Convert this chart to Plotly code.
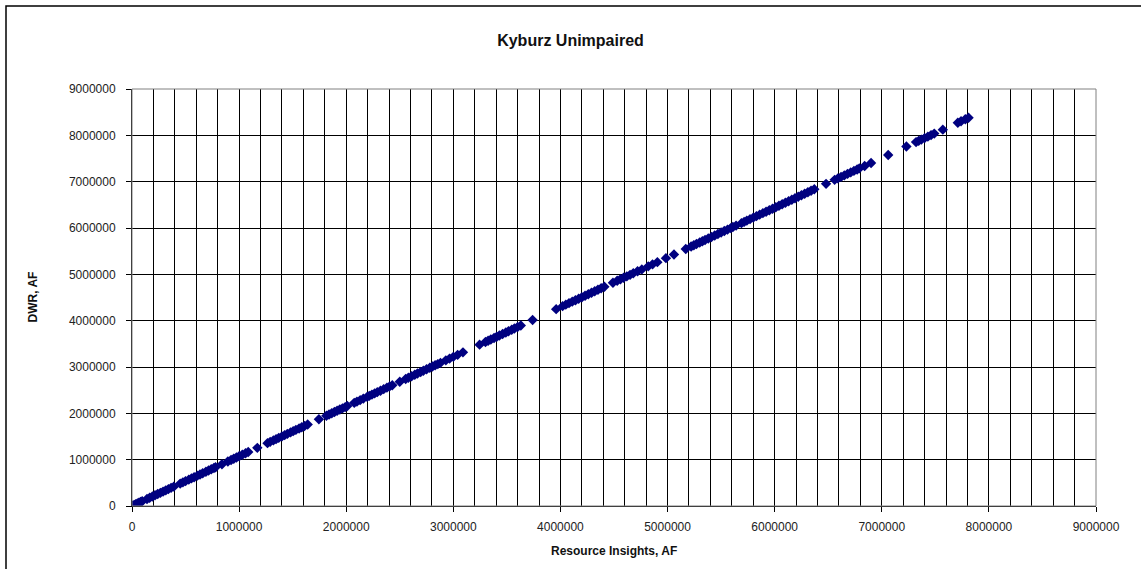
import numpy as np
import plotly.graph_objects as go

# Resource Insights (x) vs DWR (y), in thousands of AF
ri_kaf = [
    5, 20, 35, 50, 65, 80, 95,
    140, 165, 190, 215, 240, 265, 290, 315, 340, 365, 390,
    450, 475, 500, 530, 555, 580, 610, 635, 660, 690, 715, 740, 765, 780,
    840, 895,
    925, 950, 975, 1000, 1030, 1060, 1085,
    1170,
    1265, 1290, 1320, 1345, 1370, 1400, 1425, 1450, 1480, 1505, 1530, 1560, 1585, 1610, 1640,
    1745,
    1815, 1840, 1865, 1890, 1915, 1940, 1965, 1990, 2010,
    2075, 2100, 2130, 2160, 2195,
    2215, 2240, 2265, 2290, 2320, 2350, 2380, 2405, 2430,
    2500,
    2555, 2580, 2610, 2640, 2665, 2695, 2720, 2750, 2780, 2805, 2830, 2855, 2880,
    2930, 2965, 3000, 3040,
    3090,
    3245,
    3300, 3325, 3350, 3380, 3405, 3430, 3460, 3490, 3515, 3545, 3570, 3600, 3630,
    3740,
    3960,
    4020, 4050, 4080, 4110, 4140, 4170, 4200, 4230, 4260, 4290, 4320, 4350, 4380, 4410,
    4490,
    4530, 4560, 4590, 4620, 4650, 4680, 4720,
    4760, 4820, 4860,
    4905, 4985, 5060, 5170,
    5220, 5245, 5270, 5300, 5325, 5350, 5380, 5410, 5440, 5470, 5500, 5530, 5560, 5590, 5610,
    5640,
    5690, 5715, 5740, 5770, 5800, 5830, 5860, 5890, 5920, 5950, 5980, 6010,
    6040, 6070, 6100, 6130, 6160, 6190, 6220, 6250, 6280, 6310, 6340, 6370,
    6480,
    6560, 6590, 6620, 6650, 6680, 6710, 6740, 6770, 6790,
    6840, 6900, 7060, 7230,
    7320, 7345, 7370, 7400, 7430, 7460, 7490,
    7570,
    7710, 7740, 7780, 7810,
]
dwr_kaf = [
    5, 21, 38, 54, 70, 86, 102,
    150, 177, 204, 231, 258, 284, 311, 338, 365, 392, 418,
    483, 510, 537, 569, 596, 622, 655, 681, 708, 740, 767, 794, 821, 837,
    901, 960,
    993, 1019, 1046, 1073, 1105, 1137, 1164,
    1255,
    1357, 1384, 1416, 1443, 1470, 1502, 1529, 1556, 1588, 1615, 1642, 1674, 1701, 1728, 1760,
    1872,
    1948, 1974, 2001, 2028, 2055, 2082, 2108, 2135, 2157,
    2226, 2253, 2285, 2318, 2355,
    2377, 2404, 2430, 2457, 2489, 2522, 2554, 2581, 2607,
    2682,
    2741, 2768, 2800, 2833, 2860, 2892, 2919, 2951, 2983, 3010, 3037, 3063, 3090,
    3144, 3181, 3219, 3262,
    3316,
    3482,
    3541, 3568, 3595, 3627, 3654, 3680, 3713, 3745, 3772, 3804, 3831, 3863, 3895,
    4013,
    4249,
    4313, 4346, 4378, 4410, 4442, 4474, 4507, 4539, 4571, 4603, 4635, 4668, 4700, 4732,
    4818,
    4861, 4893, 4925, 4957, 4989, 5022, 5065,
    5107, 5172, 5215,
    5263, 5349, 5429, 5547,
    5601, 5628, 5655, 5687, 5714, 5741, 5773, 5805, 5837, 5869, 5902, 5934, 5966, 5998, 6020,
    6052,
    6105, 6132, 6159, 6191, 6223, 6256, 6288, 6320, 6352, 6384, 6417, 6449,
    6481, 6513, 6545, 6577, 6610, 6642, 6674, 6706, 6738, 6771, 6803, 6835,
    6953,
    7039, 7071, 7103, 7135, 7168, 7200, 7232, 7264, 7286,
    7339, 7404, 7575, 7758,
    7854, 7881, 7908, 7940, 7972, 8005, 8037,
    8123,
    8273, 8305, 8348, 8380,
]

x = np.array(ri_kaf) * 1000
y = np.array(dwr_kaf) * 1000

W, H = 1141, 569
L, R, T, B = 132, 45, 89, 63
pw, ph = W - L - R, H - T - B

fig = go.Figure()
fig.add_trace(go.Scatter(
    x=x, y=y, mode="markers",
    marker=dict(symbol="diamond", size=8, color="#000080", line=dict(width=0)),
    showlegend=False, hoverinfo="x+y",
))

font = "Arial, 'Liberation Sans', sans-serif"
fig.update_layout(
    width=W, height=H,
    margin=dict(l=L, r=R, t=T, b=B),
    paper_bgcolor="white", plot_bgcolor="white",
    font=dict(family=font, size=12, color="#222"),
    title=dict(text="<b>Kyburz Unimpaired</b>", x=0.5, xref="container",
               y=1 - 40 / H, yref="container", yanchor="middle",
               font=dict(size=16, color="#111")),
    xaxis=dict(
        range=[0, 9000000], dtick=1000000, tickformat="d",
        showgrid=True, gridcolor="#000", gridwidth=1,
        minor=dict(dtick=200000, showgrid=True, gridcolor="#000", gridwidth=1),
        showline=True, linecolor="#000", linewidth=1,
        ticks="outside", ticklen=5, tickcolor="#000", ticklabelstandoff=5,
        zeroline=False, fixedrange=True,
    ),
    yaxis=dict(
        range=[0, 9000000], dtick=1000000, tickformat="d",
        showgrid=True, gridcolor="#000", gridwidth=1,
        showline=True, linecolor="#000", linewidth=1,
        ticks="outside", ticklen=5, tickcolor="#000", ticklabelstandoff=8,
        zeroline=False, fixedrange=True,
    ),
    annotations=[
        dict(text="<b>Resource Insights, AF</b>", xref="paper", yref="paper",
             x=0.5, y=-(551 - (T + ph)) / ph, yanchor="middle", showarrow=False,
             font=dict(size=12, color="#111")),
        dict(text="<b>DWR, AF</b>", xref="paper", yref="paper",
             x=-(L - 32) / pw, y=0.5, xanchor="center", yanchor="middle",
             textangle=-90, showarrow=False, font=dict(size=12, color="#111")),
    ],
    shapes=[
        # plot area frame (top / right edges gray)
        dict(type="rect", xref="paper", yref="paper", x0=0, y0=0, x1=1, y1=1,
             line=dict(color="#808080", width=1), layer="above"),
        # outer chart border (left and top visible)
        dict(type="rect", xref="paper", yref="paper",
             x0=-(L - 6) / pw, y0=-(B + 10) / ph, x1=1 + (R + 10) / pw, y1=1 + (T - 6) / ph,
             line=dict(color="#000", width=1.5)),
    ],
)

fig.write_html("out.html", config={"displayModeBar": False},
               post_script="document.body.style.margin='0';")
